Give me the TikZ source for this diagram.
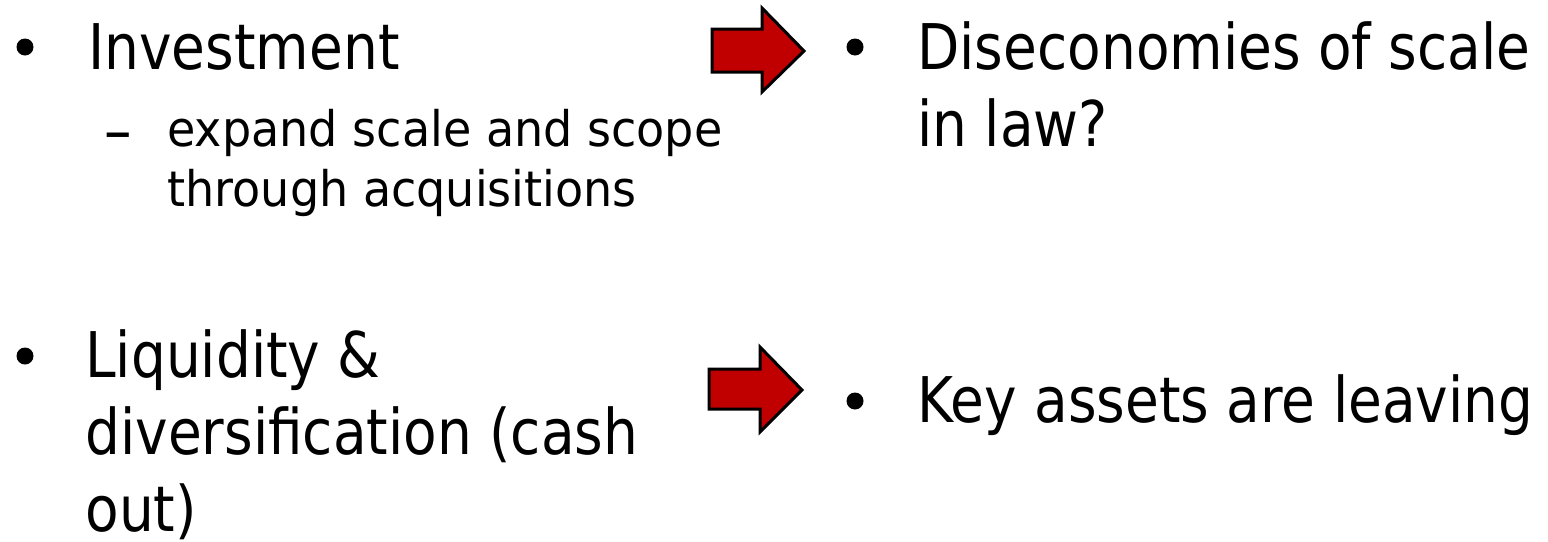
\documentclass[tikz,border=0pt]{standalone}
\usepackage{fontspec}
\setmainfont{DejaVu Sans}
\newfontfamily\itemfont[FakeStretch=0.872]{DejaVu Sans}
\newfontfamily\subitemfont[FakeStretch=0.94]{DejaVu Sans}
\usepackage{xcolor}
\definecolor{arrowred}{HTML}{C00000}
\usetikzlibrary{positioning}

\begin{document}
\begin{tikzpicture}[
    x=0.5pt, y=-0.5pt,
    item/.style={anchor=base west, inner sep=0pt, align=left, font=\itemfont\fontsize{31.5}{38.5}\selectfont},
    subitem/.style={anchor=base west, inner sep=0pt, align=left, font=\subitemfont\fontsize{24.5}{30}\selectfont},
    dot/.style={circle, fill=black, inner sep=0pt, minimum size=8.5pt},
    bigarrow/.style={draw=black, fill=arrowred, line width=1.5pt, line join=miter}
]
\useasboundingbox (0,0) rectangle (1548,541);
% left column (base anchor sits on the last line)
\node[dot] (b1) at (25,47) {};
\node[item] (invest) at (88,69) {Investment};
\node[item] (dash) at (104,152) {–};
\node[subitem] (expand) at (167,206) {expand scale and scope\\through acquisitions};
\node[dot] (b2) at (25,356) {};
\node[item] (liquid) at (85,531) {Liquidity \&\\diversification (cash\\out)};
% arrows
\draw[bigarrow] (712,29) -- (762,29) -- (762,8) -- (804,51) -- (762,92) -- (762,72) -- (712,72) -- cycle;
\draw[bigarrow] (709,369) -- (760,369) -- (760,347) -- (802,390) -- (760,432) -- (760,409) -- (709,409) -- cycle;
% right column
\node[dot] (b3) at (855,47) {};
\node[item] (dis) at (917,146) {Diseconomies of scale\\in law?};
\node[dot] (b4) at (855,401) {};
\node[item] (key) at (917,422) {Key assets are leaving};
\end{tikzpicture}
\end{document}
